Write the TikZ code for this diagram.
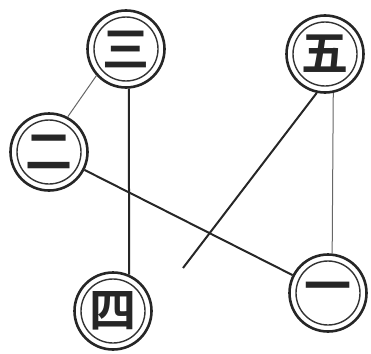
\documentclass[tikz,border=0pt]{standalone}
\usepackage{fontspec}
\newfontfamily\cjk{Noto Sans CJK SC}[BoldFont={Noto Sans CJK SC Bold}]
\tikzset{
  x=1pt, y=-1pt,
  ring/.style={circle, draw=black!85, line width=2.6pt, minimum size=77pt, inner sep=0pt,
    font=\cjk\bfseries\fontsize{47}{47}\selectfont, text=black!85,
    path picture={\draw[line width=1.4pt, black!80] (path picture bounding box.center) circle (32pt);}},
  heavy/.style={line width=2pt, black!85},
  light/.style={line width=1pt, black!60},
}
\begin{document}
\begin{tikzpicture}
\useasboundingbox (0,0) rectangle (371,353);
\node[ring] (san) at (126,49) {三};
\node[ring] (wu) at (325,54) {五};
\node[ring] (er) at (49,152) {二};
\node[ring] (yi) at (328,293) {一};
\node[ring] (si) at (113,311) {四};
\coordinate (end) at (183,268);
\draw[light] (san.-138) -- (er.62);
\draw[heavy] (san.-86) -- (si.66);
\draw[light] (wu.-78) -- (yi.84);
\draw[heavy] (er) -- (yi);
\draw[heavy] (wu.-102) -- (end);
\end{tikzpicture}
\end{document}
